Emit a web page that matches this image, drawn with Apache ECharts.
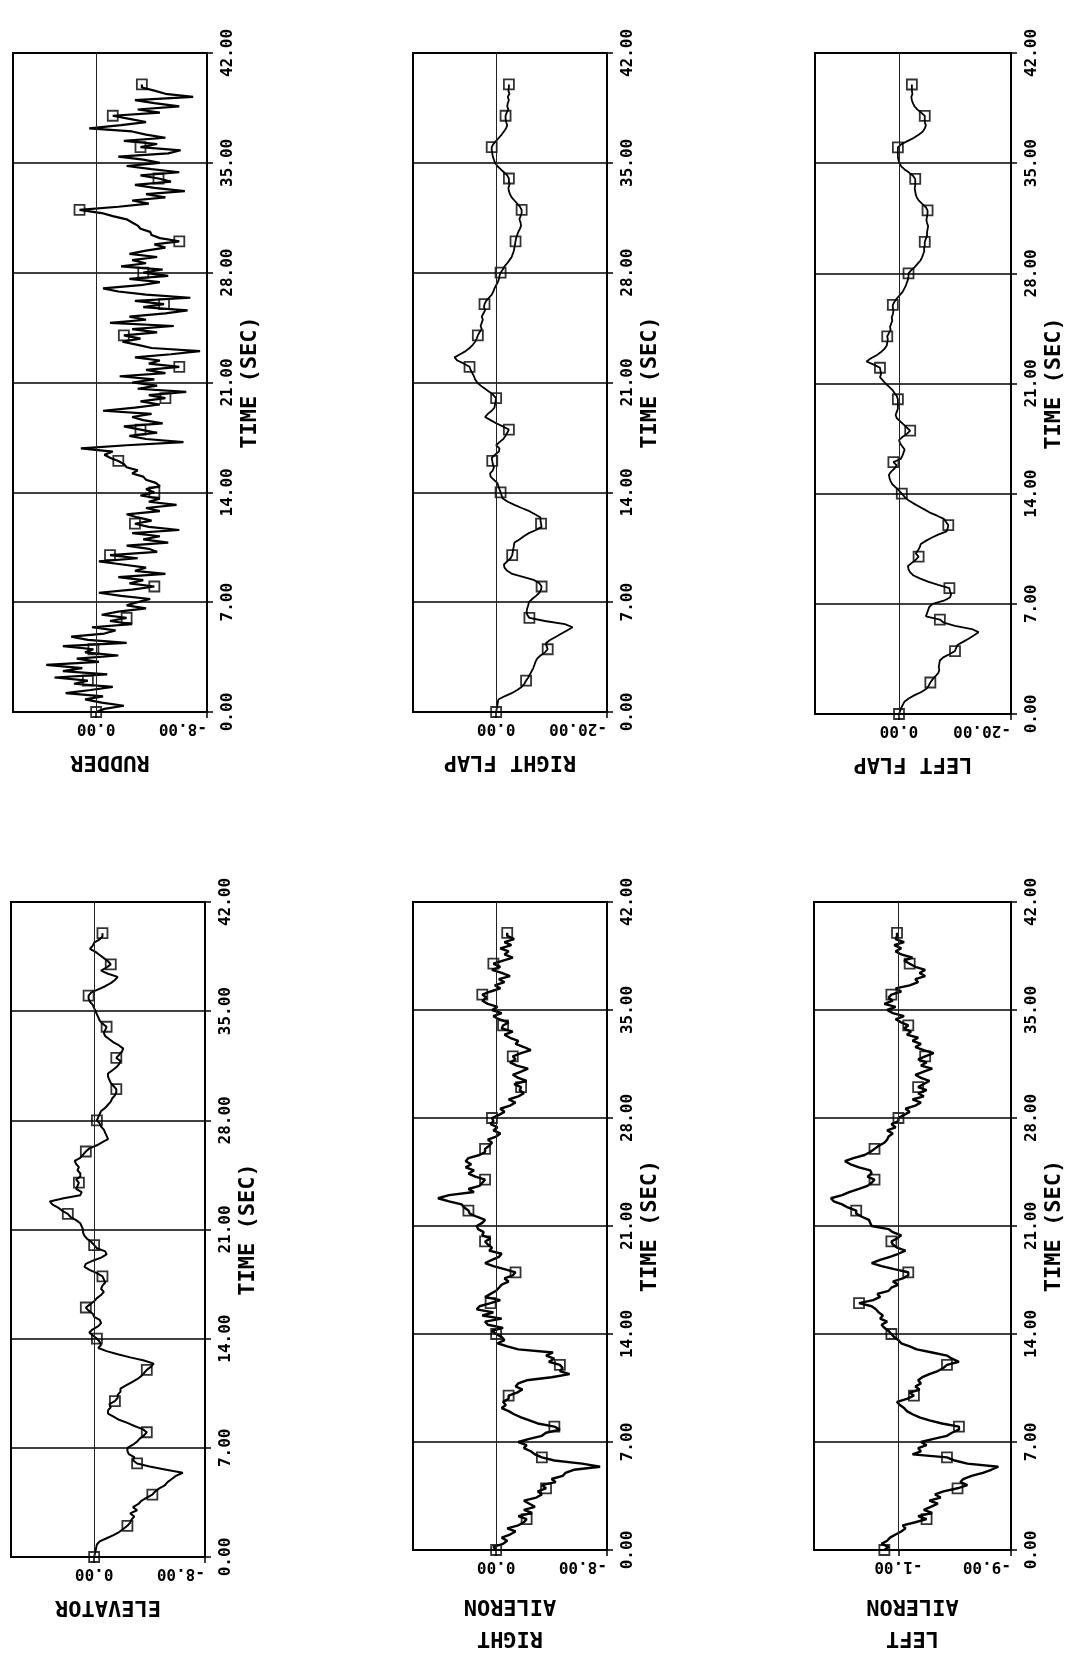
<!DOCTYPE html>
<html>
<head>
<meta charset="utf-8">
<script src="https://cdn.jsdelivr.net/npm/echarts@6/dist/echarts.min.js"></script>
<style>
html,body{margin:0;padding:0;background:#fff;}
#chart{width:1067px;height:1655px;}
</style>
</head>
<body>
<div id="chart"></div>
<script>
// ---------------- DATA ----------------
// sample step (seconds) of the digitised traces, from 0 to 40 s
const T_STEP = 0.2;

// RUDDER (deg)  5 samples per second
const rudder = [
 0, -0.6, -2.0, -0.4, 0.8,
 -0.5, 2.2, 0.4, -1.2, 1.6,
 0.6, 3.0, -0.8, 2.4, 1.0,
 3.6, -0.2, 1.4, -1.6, 0.8,
 0.2, 2.4, -2.2, 0.6, 1.8,
 -0.6, -1.4, 0.3, -2.6, -1.0,
 -2.2, -0.4, -1.6, -3.6, -2.2,
 -3.0, -3.9, -1.8, -0.2, -2.6,
 -4.2, -2.4, -3.4, -1.6, -5.0,
 -2.8, -3.6, -1.9, -0.2, -3.0,
 -1.0, -4.4, -3.8, -2.2, -5.2,
 -3.4, -4.6, -2.6, -6.0, -3.8,
 -2.8, -4.0, -3.0, -2.2, -4.6,
 -3.6, -5.8, -3.8, -4.6, -3.2,
 -4.2, -3.6, -4.6, -4.3, -3.6,
 -3.4, -2.6, -3.0, -2.2, -2.0,
 -1.6, -1.0, -0.6, -1.2, 1.1,
 -2.2, -6.3, -3.6, -2.4, -4.4,
 -3.2, -2.0, -4.8, -3.4, -2.6,
 -4.0, -0.5, -2.8, -4.6, -3.2,
 -5.0, -3.8, -6.5, -3.0, -4.4,
 -2.6, -4.2, -1.7, -5.0, -3.6,
 -6.0, -3.8, -4.6, -2.8, -5.4,
 -7.5, -4.0, -3.0, -1.9, -3.2,
 -2.0, -4.4, -2.6, -5.6, -1.0,
 -3.6, -2.4, -5.0, -6.6, -3.4,
 -4.9, -2.8, -6.8, -3.6, -1.6,
 -0.5, -3.2, -4.6, -2.4, -5.2,
 -3.4, -4.8, -1.8, -3.6, -2.6,
 -4.4, -2.4, -3.6, -5.0, -4.2,
 -6.0, -4.6, -4.0, -3.9, -3.2,
 -3.0, -2.6, -2.2, -1.2, -0.4,
 1.2, -1.6, -3.8, -2.6, -5.0,
 -3.6, -6.4, -4.2, -2.8, -5.4,
 -4.5, -3.2, -6.0, -4.0, -2.2,
 -4.6, -3.4, -1.6, -5.2, -6.1,
 -3.2, -4.4, -2.0, -5.0, -3.6,
 -2.6, 0.5, -1.8, -3.6, -2.4,
 -1.2, -4.6, -3.0, -6.0, -4.2,
 -2.8, -7.0, -5.0, -4.2, -3.3,
 -3.3
];

// RIGHT FLAP (deg)
const rightFlap = [
 0, -0.1, -0.2, -0.3, -0.4,
 -1.5, -2.8, -3.8, -4.6, -5.1,
 -5.4, -5.8, -6.1, -6.4, -6.7,
 -6.9, -7.1, -7.4, -8.0, -8.8,
 -9.3, -9.1, -9.0, -9.8, -10.8,
 -11.8, -12.8, -13.8, -12.4, -8.8,
 -6.0, -5.6, -5.5, -5.6, -5.8,
 -5.9, -6.5, -7.2, -7.8, -8.1,
 -8.2, -7.8, -6.9, -5.0, -2.9,
 -2.0, -1.5, -1.4, -2.0, -2.6,
 -2.9, -3.0, -3.1, -3.2, -3.3,
 -4.2, -5.0, -5.9, -7.2, -8.2,
 -8.1, -8.0, -8.0, -7.0, -6.0,
 -4.6, -3.3, -2.1, -1.2, -1.0,
 -0.8, -0.6, -0.4, -0.2, 0.4,
 1.0, 1.1, 0.6, 0.4, 0.6,
 0.7, 0.8, 0.2, -0.5, -0.6,
 0, -0.6, -1.3, -1.7, -2.0,
 -2.3, -1.2, 0, 1.0, 2.0,
 1.5, 0.8, 0.3, 0.2, 0.1,
 0, 0.5, 1.2, 2.0, 2.8,
 3.4, 3.8, 4.0, 4.3, 4.6,
 4.8, 5.8, 7.0, 7.5, 6.5,
 5.5, 4.8, 4.2, 3.8, 3.5,
 3.3, 3.0, 2.6, 2.8, 2.6,
 2.4, 2.6, 2.3, 2.0, 2.2,
 2.1, 1.8, 1.3, 0.8, 0.5,
 0.3, 0.0, -0.3, -0.5, -0.6,
 -0.8, -1.2, -1.5, -2.0, -2.4,
 -2.8, -3.0, -3.2, -3.3, -3.4,
 -3.5, -3.6, -3.8, -4.0, -4.3,
 -4.5, -4.4, -4.2, -4.4, -4.6,
 -4.6, -4.3, -3.8, -3.3, -2.8,
 -2.5, -2.3, -2.2, -2.4, -2.3,
 -2.3, -2.0, -1.4, -0.8, -0.2,
 0.2, 0.4, 0.6, 0.7, 0.8,
 0.8, 0.5, 0.0, -0.5, -1.0,
 -1.4, -1.8, -2.0, -1.8, -1.7,
 -1.7, -1.9, -2.2, -2.0, -2.1,
 -2.3, -2.1, -2.4, -2.2, -2.3,
 -2.3
];

// LEFT FLAP (deg)
const leftFlap = [
 0, -0.2, -0.4, -0.7, -1.0,
 -1.8, -2.8, -4.0, -4.9, -5.3,
 -5.6, -6.0, -6.5, -7.0, -7.2,
 -7.1, -7.2, -7.3, -7.9, -9.0,
 -10.0, -10.2, -10.5, -11.5, -12.5,
 -13.4, -14.2, -13.0, -10.0, -8.0,
 -7.3, -4.8, -5.0, -5.2, -5.4,
 -6.0, -8.0, -9.1, -9.3, -9.1,
 -9.0, -7.0, -5.3, -3.8, -2.6,
 -2.0, -1.7, -1.6, -2.3, -3.0,
 -3.5, -3.0, -3.4, -3.7, -3.9,
 -4.8, -5.8, -7.0, -8.5, -8.7,
 -8.8, -8.4, -8.0, -6.8, -5.5,
 -4.5, -3.5, -2.5, -1.6, -1.0,
 -0.5, 0.0, 0.6, 1.2, 1.5,
 1.7, 1.8, 1.4, 0.8, 0.4,
 1.0, -0.3, -0.6, -0.8, -1.0,
 -0.6, -0.2, 0.0, -0.6, -1.4,
 -2.0, -1.4, -0.8, -0.2, 0.4,
 0.6, 0.4, 0.2, 0.2, 0.2,
 0.2, 0.4, 0.8, 1.2, 1.8,
 2.4, 2.9, 3.4, 3.2, 3.3,
 3.4, 4.5, 5.8, 5.0, 4.0,
 3.2, 2.6, 2.2, 2.1, 2.0,
 2.1, 1.8, 1.5, 1.6, 1.4,
 1.2, 1.3, 1.1, 1.0, 1.1,
 1.1, 0.8, 0.4, -0.1, -0.6,
 -0.9, -1.2, -1.4, -1.6, -1.7,
 -1.7, -2.2, -2.8, -3.3, -3.8,
 -4.1, -4.3, -4.5, -4.5, -4.6,
 -4.6, -4.8, -5.0, -5.0, -5.1,
 -5.2, -5.0, -4.9, -5.0, -5.1,
 -5.1, -4.8, -4.2, -3.6, -3.2,
 -3.0, -2.9, -2.8, -2.9, -2.9,
 -2.9, -2.5, -1.8, -1.0, -0.4,
 -0.1, 0.1, 0.2, 0.2, 0.2,
 0.2, -0.4, -1.5, -2.6, -3.5,
 -4.2, -4.6, -4.8, -4.6, -4.6,
 -4.6, -4.0, -3.3, -2.8, -2.5,
 -2.3, -2.2, -2.4, -2.3, -2.3,
 -2.3
];

// ELEVATOR (deg)
const elevator = [
 0, -0.05, -0.1, -0.15, -0.2,
 -0.4, -0.9, -1.4, -1.8, -2.1,
 -2.4, -2.6, -2.7, -2.9, -2.6,
 -3.1, -2.8, -3.2, -3.4, -3.8,
 -4.2, -4.4, -4.7, -5.1, -5.3,
 -5.6, -5.9, -6.4, -5.2, -4.0,
 -3.1, -2.8, -2.9, -2.5, -2.4,
 -2.4, -2.8, -3.1, -3.3, -3.6,
 -3.8, -3.5, -2.9, -2.4, -1.8,
 -1.4, -1.0, -1.0, -1.2, -1.1,
 -1.5, -1.7, -1.7, -1.9, -1.9,
 -2.3, -2.7, -3.1, -3.4, -3.6,
 -3.8, -4.1, -4.3, -3.6, -2.6,
 -1.7, -0.9, -0.3, -0.5, -0.4,
 -0.2, 0.1, 0.35, 0.1, -0.3,
 -0.5, -0.4, 0, 0.1, 0.4,
 0.6, 0.3, 0, -0.2, -0.5,
 -0.7, -0.5, -0.6, -0.8, -0.7,
 -0.6, -0.2, 0.3, 0.7, 0.6,
 0.1, -0.5, -0.9, -0.8, -0.2,
 0, 0.2, 0.5, 0.7, 0.8,
 0.8, 0.9, 1.0, 1.3, 1.7,
 1.9, 2.3, 2.6, 3.0, 3.2,
 2.2, 1.0, 0.9, 1.3, 1.2,
 1.1, 1.3, 1.0, 1.0, 1.2,
 1.1, 1.3, 1.4, 1.0, 0.8,
 0.6, 0.35, -0.2, -0.6, -1.0,
 -0.9, -0.8, -0.7, -0.5, -0.4,
 -0.2, -0.3, -0.4, -0.5, -0.8,
 -1.0, -1.2, -1.3, -1.5, -1.6,
 -1.6, -1.4, -1.2, -1.1, -1.0,
 -1.0, -1.3, -1.6, -1.8, -1.9,
 -1.6, -1.8, -2.0, -2.1, -1.8,
 -1.4, -1.1, -0.8, -0.7, -0.8,
 -0.9, -0.6, -0.4, -0.3, -0.2,
 -0.1, 0, 0.1, 0.3, 0.4,
 0.4, 0.2, -0.3, -0.8, -1.2,
 -1.5, -1.7, -1.0, -0.5, -0.9,
 -1.2, -1.0, -0.7, -0.4, -0.1,
 0.3, 0.1, 0, -0.4, -0.6,
 -0.6
];

// RIGHT AILERON (deg)
const rightAileron = [
 0, 0.2, -0.5, -0.8, -0.4,
 -1.0, -1.4, -0.8, -1.6, -2.0,
 -2.2, -1.6, -2.6, -2.0, -2.8,
 -2.4, -2.0, -2.9, -3.3, -3.0,
 -3.6, -3.3, -4.3, -4.0, -4.8,
 -5.0, -5.6, -7.5, -6.2, -4.2,
 -3.3, -2.8, -2.5, -2.0, -2.2,
 -1.6, -2.4, -3.3, -3.6, -4.6,
 -4.2, -3.0, -2.4, -1.8, -1.3,
 -0.9, -0.4, -0.7, -0.5, -0.9,
 -0.9, -1.5, -1.9, -1.4, -1.6,
 -2.2, -4.0, -5.3, -4.6, -4.8,
 -4.6, -3.8, -4.2, -3.6, -4.1,
 -1.6, -0.8, -0.1, -0.6, -0.4,
 0.0, 0.3, -0.5, 0.6, 0.8,
 -0.4, 1.0, 0.2, 1.4, 1.2,
 0.4, -0.3, 0.8, 0.4, 0.0,
 -0.2, -0.4, -0.9, -0.6, -1.2,
 -1.4, -0.6, 0.2, 0.8, 0.3,
 -0.2, -0.4, 0.5, 0.3, 0.6,
 0.8, 0.4, 1.0, 0.9, 1.3,
 1.4, 1.0, 0.8, 1.4, 1.9,
 2.0, 2.3, 2.5, 3.4, 4.2,
 3.4, 1.6, 2.0, 1.2, 1.0,
 0.8, 1.5, 2.0, 1.6, 2.2,
 1.8, 2.2, 2.0, 1.2, 0.8,
 0.8, 0.5, 0.3, 0.6, 0.0,
 -0.3, 0.2, -0.1, 0.4, 0.2,
 0.3, -0.2, -0.6, -0.3, -1.0,
 -1.4, -0.9, -1.6, -2.0, -1.7,
 -1.8, -1.3, -2.2, -1.6, -1.2,
 -1.8, -2.3, -1.5, -1.0, -1.4,
 -1.2, -1.8, -2.5, -2.0, -1.4,
 -1.6, -1.0, -0.6, -1.2, -0.4,
 -0.5, -0.9, -0.2, 0.2, -0.4,
 0.3, -0.1, 0.6, 1.0, 0.7,
 1.0, 0.4, -0.3, 0.1, -0.6,
 -0.2, -1.0, -0.4, 0.3, -0.3,
 0.2, -0.5, -1.2, -0.6, -0.9,
 -0.3, -1.1, -0.6, -1.3, -0.8,
 -0.8
];

// LEFT AILERON (deg)
const leftAileron = [
 0, -0.3, 0.2, -0.2, -0.4,
 -0.8, -1.2, -1.5, -1.3, -2.2,
 -3.0, -2.4, -3.4, -2.8, -3.3,
 -3.8, -3.2, -4.0, -3.6, -4.2,
 -5.2, -5.9, -5.4, -5.6, -6.2,
 -7.0, -7.6, -8.1, -5.9, -5.0,
 -4.45, -2.0, -2.6, -2.4, -3.0,
 -2.6, -3.5, -4.45, -4.8, -5.3,
 -5.3, -4.1, -3.2, -2.5, -2.0,
 -1.6, -1.4, -1.1, -0.9, -1.6,
 -2.1, -1.8, -2.5, -2.2, -2.6,
 -2.4, -2.7, -3.2, -3.8, -4.2,
 -4.45, -5.3, -4.8, -4.45, -3.4,
 -2.3, -1.8, -1.2, -1.0, -0.7,
 -0.5, -0.3, 0.0, 0.2, -0.2,
 0.3, 0.1, 0.4, 0.6, 0.9,
 1.8, 0.8, 0.3, 0.5, -0.3,
 -0.5, -1.0, -0.6, -1.3, -1.7,
 -1.7, -0.7, 0.2, 0.9, 0.3,
 -0.4, -1.0, -1.5, -0.9, -0.6,
 -0.5, -0.9, -1.2, -0.6, -0.3,
 0.9, 1.0, 1.1, 1.6, 2.0,
 2.0, 2.6, 3.0, 3.6, 3.8,
 3.0, 2.5, 1.8, 1.2, 0.9,
 0.7, 1.2, 0.9, 1.0, 1.8,
 2.4, 2.8, 2.2, 1.4, 1.0,
 0.7, 0.4, 0.0, -0.2, -0.3,
 -0.6, -0.2, -0.8, -0.5, -1.0,
 -1.0, -1.4, -1.8, -1.5, -2.2,
 -2.6, -2.0, -2.8, -2.4, -3.0,
 -2.4, -2.8, -3.2, -2.6, -2.2,
 -2.8, -3.4, -2.6, -3.0, -2.4,
 -2.9, -3.5, -2.8, -2.2, -2.6,
 -2.0, -2.4, -1.6, -1.9, -1.4,
 -1.7, -1.2, -0.8, -1.4, -0.6,
 -0.2, -0.8, 0.0, -0.6, -0.3,
 -0.5, -1.2, -0.8, -1.8, -2.4,
 -2.2, -2.9, -2.5, -2.9, -2.2,
 -1.8, -1.4, -2.0, -1.2, -0.8,
 -1.2, -0.7, -1.4, -0.8, -0.9,
 -0.9
];

// ---------------- LAYOUT ----------------
const panels = [
  {name: 'RUDDER',         values: rudder,       box: {left: 13,  top: 53,  width: 194, height: 659}, min: -8,  max: 6,  labels: [-8, 0],  zero: 0,  lw: 2.2},
  {name: 'RIGHT FLAP',     values: rightFlap,    box: {left: 413, top: 53,  width: 194, height: 659}, min: -20, max: 15, labels: [-20, 0], zero: 0,  lw: 1.8},
  {name: 'LEFT FLAP',      values: leftFlap,     box: {left: 815, top: 53,  width: 196, height: 661}, min: -20, max: 15, labels: [-20, 0], zero: 0,  lw: 1.8},
  {name: 'ELEVATOR',       values: elevator,     box: {left: 11,  top: 902, width: 194, height: 655}, min: -8,  max: 6,  labels: [-8, 0],  zero: 0,  lw: 2.0},
  {name: 'RIGHT\nAILERON', values: rightAileron, box: {left: 413, top: 902, width: 194, height: 653}, min: -8,  max: 6,  labels: [-8, 0],  zero: 0,  lw: 2.4},
  {name: 'LEFT\nAILERON',  values: leftAileron,  box: {left: 814, top: 902, width: 197, height: 654}, min: -9,  max: 5,  labels: [-9, -1], zero: -1, lw: 2.4}
];

const FONT = 'DejaVu Sans Mono';
const grids = [], xAxes = [], yAxes = [], series = [];

panels.forEach((p, i) => {
  const pts = p.values.map((v, k) => [v, +(k * T_STEP).toFixed(1)]);
  const marks = pts.filter((d, k) => k % 10 === 0);
  grids.push(Object.assign({show: true, borderColor: '#000', borderWidth: 2, backgroundColor: '#fff'}, p.box));
  xAxes.push({
    gridIndex: i, type: 'value', min: p.min, max: p.max, inverse: true,
    axisLine: {show: false, onZero: false},
    splitLine: {show: false},
    axisTick: {show: true, customValues: p.labels, length: 6, lineStyle: {color: '#000', width: 1.5}},
    axisLabel: {
      show: true, customValues: p.labels, rotate: 180, margin: 8,
      formatter: v => v.toFixed(2), color: '#000', fontFamily: FONT, fontSize: 16, fontWeight: 'bold',
      alignMinLabel: 'left'
    },
    name: p.name, nameLocation: 'middle', nameRotate: 180, nameGap: p.name.indexOf('\n') >= 0 ? 40 : 34,
    nameTextStyle: {color: '#000', fontFamily: FONT, fontSize: 22, fontWeight: 'bold', lineHeight: 32}
  });
  yAxes.push({
    gridIndex: i, type: 'value', position: 'right', min: 0, max: 42, interval: 7,
    axisLine: {show: true, onZero: false, lineStyle: {color: '#000', width: 2}},
    axisTick: {show: true, length: 6, lineStyle: {color: '#000', width: 1.5}},
    splitLine: {show: true, lineStyle: {color: '#000', width: 1.5}},
    axisLabel: {
      rotate: 90, margin: 13, formatter: v => v.toFixed(2),
      color: '#000', fontFamily: FONT, fontSize: 16, fontWeight: 'bold'
    },
    name: 'TIME (SEC)', nameLocation: 'middle', nameRotate: 90, nameGap: 32,
    nameTextStyle: {color: '#000', fontFamily: FONT, fontSize: 22, fontWeight: 'bold'}
  });
  series.push({
    type: 'line', xAxisIndex: i, yAxisIndex: i, data: pts,
    showSymbol: false, symbol: 'none', animation: false, z: 3,
    lineStyle: {color: '#000', width: p.lw},
    markLine: {
      silent: true, symbol: ['none', 'none'], animation: false,
      label: {show: false},
      lineStyle: {color: '#222', width: 1, type: 'solid'},
      data: [{xAxis: p.zero}]
    }
  });
  series.push({
    type: 'scatter', xAxisIndex: i, yAxisIndex: i, data: marks,
    symbol: 'rect', symbolSize: 10, animation: false, z: 4,
    itemStyle: {color: 'rgba(255,255,255,0)', borderColor: '#000', borderWidth: 1.8}
  });
});

const chart = echarts.init(document.getElementById('chart'), null, {renderer: 'canvas'});
chart.setOption({
  backgroundColor: '#fff',
  animation: false,
  grid: grids,
  xAxis: xAxes,
  yAxis: yAxes,
  series: series
});
</script>
</body>
</html>
